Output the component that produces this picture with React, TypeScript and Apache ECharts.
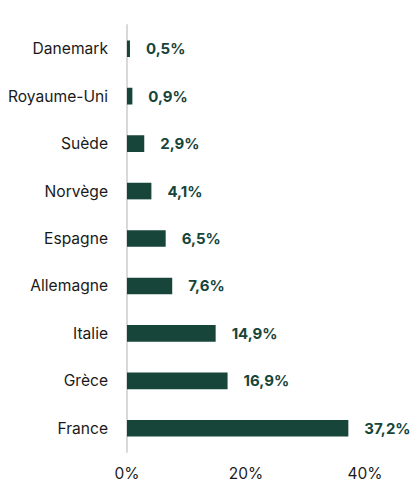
import React, { useEffect, useRef } from "react";
import * as echarts from "echarts";

const categories = ["Danemark", "Royaume-Uni", "Suède", "Norvège", "Espagne", "Allemagne", "Italie", "Grèce", "France"];
const values = [0.5, 0.9, 2.9, 4.1, 6.5, 7.6, 14.9, 16.9, 37.2];
const xTicks = [0, 20, 40];

export default function App() {
  const ref = useRef<HTMLDivElement>(null);
  useEffect(() => {
    const chart = echarts.init(ref.current!, null, { renderer: "svg" });
    chart.setOption({
      animation: false,
      grid: { left: 127, right: 47, top: 25, bottom: 28, containLabel: false },
      xAxis: {
        type: "value",
        min: xTicks[0],
        max: xTicks[xTicks.length - 1],
        interval: 20,
        splitLine: { show: false },
        axisLine: { show: false },
        axisTick: { show: false },
        axisLabel: {
          formatter: (v: number) => `${v}%`,
          color: "#1a1a1a",
          fontSize: 15.5,
          lineHeight: 14,
          fontFamily: "Inter",
          margin: 14,
        },
      },
      yAxis: {
        type: "category",
        data: categories,
        inverse: true,
        axisLine: { show: true, lineStyle: { color: "#d9d9d9", width: 2 } },
        axisTick: { show: false },
        axisLabel: {
          color: "#1a1a1a",
          fontSize: 15.6,
          fontFamily: "Inter",
          margin: 19,
        },
      },
      series: [
        {
          type: "bar",
          data: values,
          barWidth: "35%",
          itemStyle: { color: "#17453a" },
          label: {
            show: true,
            position: "right",
            distance: 16,
            formatter: (p: any) => `${String(p.value).replace(".", ",")}%`,
            color: "#17453a",
            fontWeight: "bold",
            fontSize: 15,
            fontFamily: "Inter",
          },
        },
      ],
    });
    return () => chart.dispose();
  }, []);
  return <div ref={ref} style={{ width: 412, height: 481, position: "absolute", left: 0, top: 0 }} />;
}
